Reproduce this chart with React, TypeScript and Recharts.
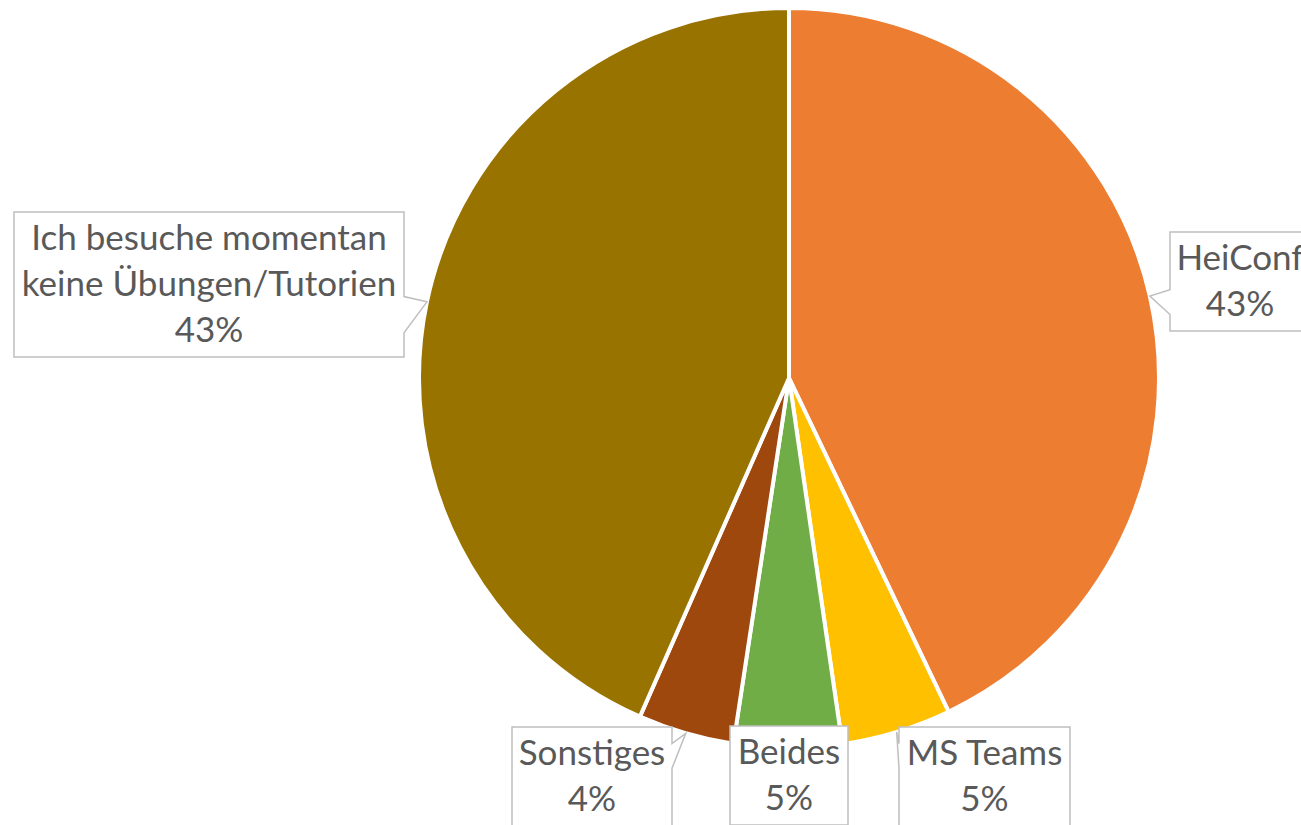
import { PieChart, Pie, Cell } from "recharts"

// survey answers (share in %), clockwise from 12 o'clock
const categories = [
    "HeiConf",
    "MS Teams",
    "Beides",
    "Sonstiges",
    "Ich besuche momentan keine Übungen/Tutorien",
]
const shares = [42.9, 4.8, 4.7, 4.2, 43.4]
const sliceColors = ["#ED7D31", "#FFC000", "#70AD47", "#9E480E", "#997300"]

const data = categories.map((name, i) => ({ name, value: shares[i] }))

// callout boxes, placed relative to the pie centre (like Excel's best fit)
const labelBoxes: Record<string, { dx: number; dy: number; w: number; h: number }> = {
    "HeiConf": { dx: 381, dy: -146, w: 140, h: 99 },
    "MS Teams": { dx: 110, dy: 349, w: 171, h: 99 },
    "Beides": { dx: -59, dy: 348, w: 118, h: 99 },
    "Sonstiges": { dx: -277, dy: 349, w: 160, h: 99 },
    "Ich besuche momentan keine Übungen/Tutorien": { dx: -775, dy: -166, w: 390, h: 145 },
}

const RADIAN = Math.PI / 180
const FONT = 35
const LINE_H = 46

function wrap(text: string, maxChars: number) {
    const lines: string[] = []
    let cur = ""
    for (const word of text.split(" ")) {
        if (cur && (cur + " " + word).length > maxChars) {
            lines.push(cur)
            cur = word
        } else {
            cur = cur ? cur + " " + word : word
        }
    }
    if (cur) lines.push(cur)
    return lines
}

type Pt = [number, number]

// rectangle callout with a wedge pointing at (tx, ty)
function calloutPath(x: number, y: number, w: number, h: number, tx: number, ty: number) {
    const l = x, r = x + w, t = y, b = y + h
    const inX = tx >= l && tx <= r
    const inY = ty >= t && ty <= b
    let pts: Pt[]
    if (inX && inY) {
        pts = [[l, t], [r, t], [r, b], [l, b]]
    } else if (inY) {
        const lower = ty > y + h / 2
        const y1 = t + h * (lower ? 7 : 2) / 12
        const y2 = t + h * (lower ? 10 : 5) / 12
        if (tx > r) pts = [[l, t], [r, t], [r, y1], [tx, ty], [r, y2], [r, b], [l, b]]
        else pts = [[l, t], [r, t], [r, b], [l, b], [l, y2], [tx, ty], [l, y1]]
    } else if (inX) {
        const right = tx > x + w / 2
        const x1 = l + w * (right ? 7 : 2) / 12
        const x2 = l + w * (right ? 10 : 5) / 12
        if (ty < t) pts = [[l, t], [x1, t], [tx, ty], [x2, t], [r, t], [r, b], [l, b]]
        else pts = [[l, t], [r, t], [r, b], [x2, b], [tx, ty], [x1, b], [l, b]]
    } else {
        const dh = 4, dv = h * 0.4
        if (ty < t && tx > r) pts = [[l, t], [r - dh, t], [tx, ty], [r, t + dv], [r, b], [l, b]]
        else if (ty < t) pts = [[l, t + dv], [tx, ty], [l + dh, t], [r, t], [r, b], [l, b]]
        else if (tx > r) pts = [[l, t], [r, t], [r, b - dv], [tx, ty], [r - dh, b], [l, b]]
        else pts = [[l, t], [r, t], [r, b], [l + dh, b], [tx, ty], [l, b - dv]]
    }
    return "M" + pts.map((p) => p.join(",")).join("L") + "Z"
}

function CalloutLabel(props: any) {
    const { cx, cy, midAngle, outerRadius, percent, name } = props
    const box = labelBoxes[name]
    if (!box) return null
    const tx = cx + Math.cos(-midAngle * RADIAN) * outerRadius
    const ty = cy + Math.sin(-midAngle * RADIAN) * outerRadius
    const x = cx + box.dx
    const y = cy + box.dy
    const lines = [...wrap(name, 22), `${Math.round(percent * 100)}%`]
    const mid = y + box.h / 2
    return (
        <g>
            <path
                d={calloutPath(x, y, box.w, box.h, tx, ty)}
                fill="#FFFFFF"
                stroke="#BFBFBF"
                strokeWidth={1.5}
            />
            {lines.map((line, i) => (
                <text
                    key={i}
                    x={x + box.w / 2}
                    y={mid + (i - (lines.length - 1) / 2) * LINE_H + 11.5}
                    textAnchor="middle"
                    fill="#595959"
                    fontSize={FONT}
                    fontFamily="Lato, 'Open Sans', sans-serif"
                >
                    {line}
                </text>
            ))}
        </g>
    )
}

export default function App() {
    return (
        <div
            style={{
                position: "absolute",
                left: 0,
                top: 0,
                width: 1301,
                height: 825,
                overflow: "hidden",
                background: "#FFFFFF",
            }}
        >
            <PieChart width={1301} height={825} margin={{ top: 0, right: 0, bottom: 0, left: 0 }}>
                <Pie
                    data={data}
                    dataKey="value"
                    nameKey="name"
                    cx={789}
                    cy={378}
                    outerRadius={370}
                    startAngle={90}
                    endAngle={-270}
                    stroke="#FFFFFF"
                    strokeWidth={4}
                    label={CalloutLabel}
                    labelLine={false}
                    isAnimationActive={false}
                >
                    {data.map((_, i) => (
                        <Cell key={i} fill={sliceColors[i]} />
                    ))}
                </Pie>
            </PieChart>
        </div>
    )
}
